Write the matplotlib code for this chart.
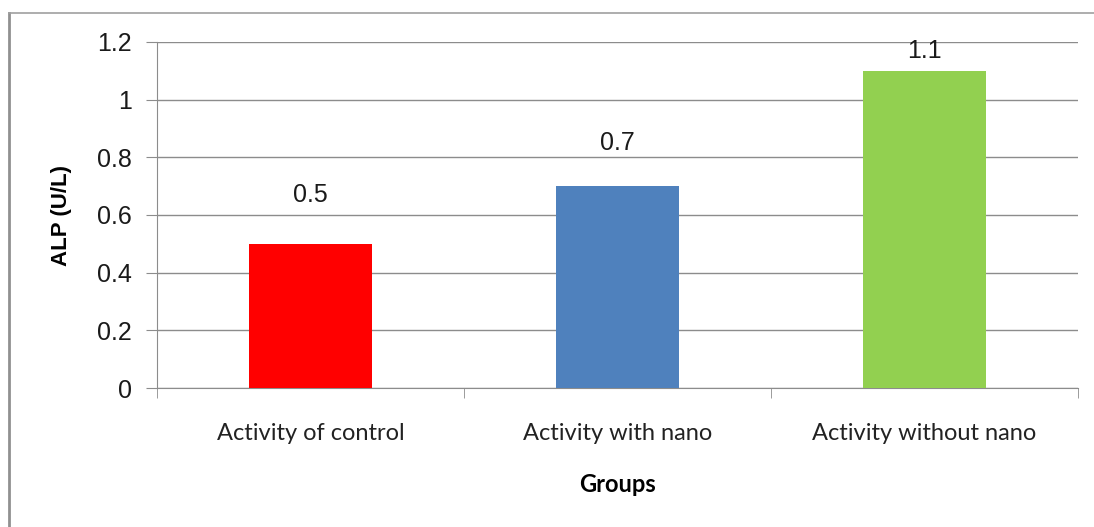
import numpy as np
import matplotlib.pyplot as plt
from matplotlib.lines import Line2D

# ---- data -----------------------------------------------------------------
groups = ['Activity of control', 'Activity with nano', 'Activity without nano']
alp = [0.5, 0.7, 1.1]
bar_colors = ['#FF0000', '#4F81BD', '#92D050']
label_offsets = [35, 31, 14]  # points above the bar top (as placed in original)

yticks = [0, 0.2, 0.4, 0.6, 0.8, 1, 1.2]
ytick_labels = ['0', '0.2', '0.4', '0.6', '0.8', '1', '1.2']

# ---- figure ---------------------------------------------------------------
fig = plt.figure(figsize=(10.94, 5.27), dpi=100)
ax = fig.add_axes([157 / 1094, 1 - 388 / 527, (1078 - 157) / 1094, (388 - 42) / 527])

x = np.arange(len(groups))
ax.bar(x, alp, width=0.4, color=bar_colors, zorder=3)

for xi, v, off in zip(x, alp, label_offsets):
    ax.annotate(f'{v:g}', (xi, v), xytext=(0, off), textcoords='offset points',
                ha='center', va='center', fontsize=18, family='Liberation Sans',
                color='#1a1a1a')

ax.set_xlim(-0.5, len(groups) - 0.5)
ax.set_ylim(0, 1.2)
ax.set_yticks(yticks)
ax.set_yticklabels(ytick_labels, fontsize=18, family='Liberation Sans', color='#1a1a1a')
ax.yaxis.grid(True, color='#8c8c8c', lw=1, zorder=0)

# category labels centred, tick marks at the boundaries
ax.set_xticks(x)
ax.set_xticklabels(groups, fontsize=17, family='Lato', color='#222222')
ax.tick_params(axis='x', length=0, pad=25)
ax.set_xticks(np.arange(-0.5, len(groups)), minor=True)
ax.tick_params(axis='x', which='minor', length=7, color='#8c8c8c', direction='out')
ax.tick_params(axis='y', length=8, color='#8c8c8c', pad=10)

for side in ('top', 'right'):
    ax.spines[side].set_visible(False)
for side in ('left', 'bottom'):
    ax.spines[side].set_color('#8c8c8c')

ax.set_ylabel('ALP (U/L)', fontsize=16, fontweight='bold', family='Liberation Sans')
ax.yaxis.set_label_coords((72 - 157) / 921, 0.5)
fig.text(617 / 1094, 1 - 485 / 527, 'Groups', ha='center', va='center',
         fontsize=17, fontweight='bold', family='Lato')

# outer frame (left and top edges of the original chart box)
fig.add_artist(Line2D([9 / 1094, 9 / 1094], [0, 1 - 13 / 527], color='#909090', lw=2,
                      transform=fig.transFigure))
fig.add_artist(Line2D([9 / 1094, 1], [1 - 13 / 527, 1 - 13 / 527], color='#a0a0a0', lw=1.2,
                      transform=fig.transFigure))

fig.savefig('out.png', dpi=100)
